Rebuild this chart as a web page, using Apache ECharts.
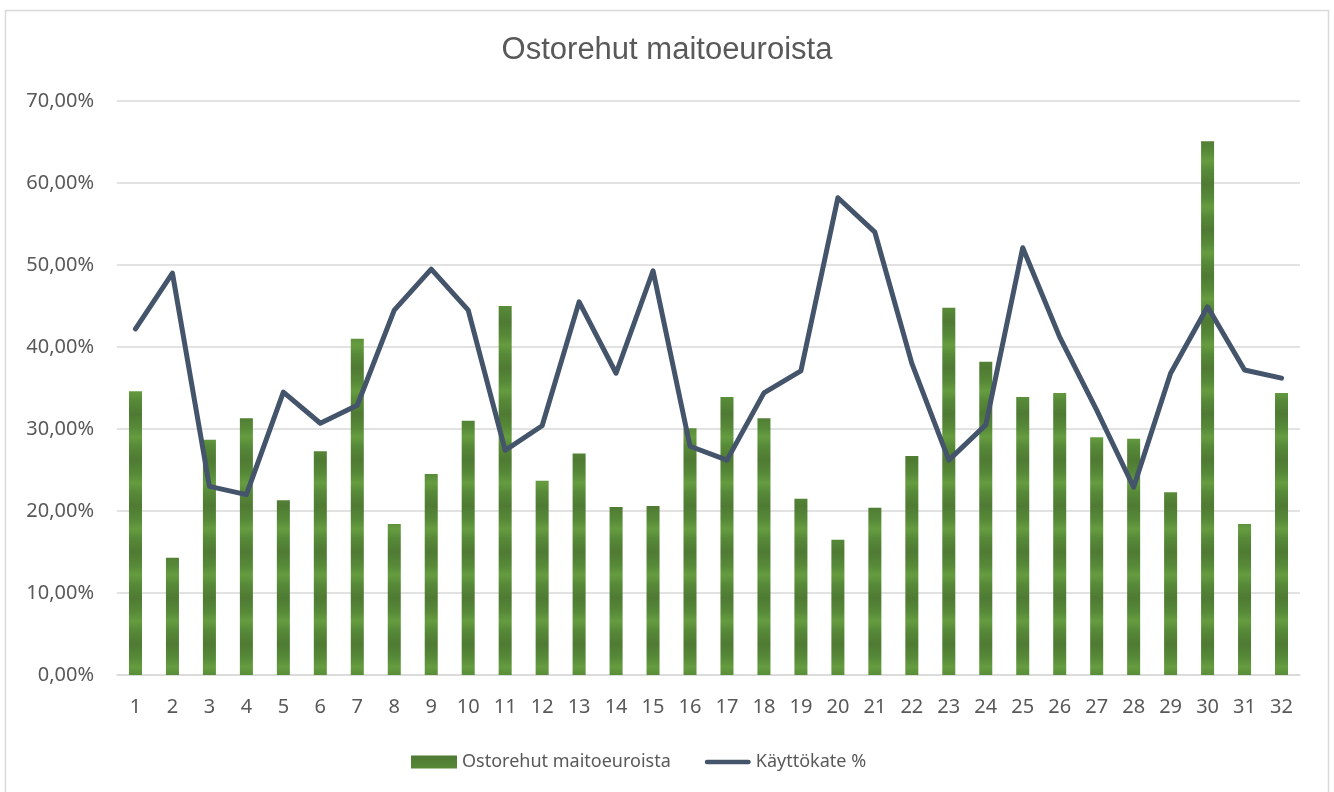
<!DOCTYPE html>
<html>
<head>
<meta charset="utf-8">
<script src="https://cdn.jsdelivr.net/npm/echarts@6/dist/echarts.min.js"></script>
<style>
html,body{margin:0;padding:0;background:#fff;}
#main{width:1334px;height:792px;}
</style>
</head>
<body>
<div id="main"></div>
<script>
// tilat 1..32
var categories = [];
for (var i = 1; i <= 32; i++) categories.push(String(i));

// ostorehut maitoeuroista (%)
var feedShare = [34.6, 14.3, 28.7, 31.3, 21.3, 27.3, 41.0, 18.4, 24.5, 31.0,
	45.0, 23.7, 27.0, 20.5, 20.6, 30.1, 33.9, 31.3, 21.5, 16.5,
	20.4, 26.7, 44.8, 38.2, 33.9, 34.4, 29.0, 28.8, 22.3, 65.1,
	18.4, 34.4];

// käyttökate % 
var ebitda = [42.2, 49.0, 23.0, 22.0, 34.5, 30.7, 32.9, 44.5, 49.5, 44.5,
	27.4, 30.4, 45.5, 36.8, 49.3, 27.9, 26.2, 34.4, 37.1, 58.2,
	54.0, 38.0, 26.2, 30.5, 52.1, 41.2, 32.3, 22.9, 36.8, 44.9,
	37.2, 36.2];

var yTicks = [0, 10, 20, 30, 40, 50, 60, 70];

// raidallinen vihreä täyttö pylväisiin
function stripeCanvas() {
	var c = document.createElement('canvas');
	c.width = 16;
	c.height = 46;
	var ctx = c.getContext('2d');
	var g = ctx.createLinearGradient(0, 0, 0, 46);
	g.addColorStop(0, '#4f7a33');
	g.addColorStop(0.3, '#578a38');
	g.addColorStop(0.5, '#669c40');
	g.addColorStop(0.7, '#578a38');
	g.addColorStop(1, '#4f7a33');
	ctx.fillStyle = g;
	ctx.fillRect(0, 0, 16, 46);
	return c;
}
var barFill = { image: stripeCanvas(), repeat: 'repeat' };

var txt = '#595959';
var myChart = echarts.init(document.getElementById('main'));
var option = {
	backgroundColor: '#fff',
	animation: false,
	title: {
		text: 'Ostorehut maitoeuroista',
		left: 'center',
		top: 30,
		textStyle: { fontFamily: 'Liberation Sans', fontSize: 31, fontWeight: 'normal', color: txt }
	},
	graphic: [{
		type: 'rect',
		shape: { x: 5.5, y: 10.5, width: 1323, height: 790 },
		style: { fill: 'none', stroke: '#d9d9d9', lineWidth: 1.5 },
		silent: true
	}],
	legend: {
		bottom: 16,
		left: 406,
		itemWidth: 46,
		itemHeight: 13,
		itemGap: 34,
		symbolKeepAspect: true,
		textStyle: { fontFamily: 'Noto Sans', fontSize: 18, color: txt },
		data: [
			{ name: 'Ostorehut maitoeuroista', icon: 'rect' },
			{ name: 'Käyttökate %', icon: 'path://M2.5,0 L47.5,0 A2.5,2.5 0 0 1 47.5,5 L2.5,5 A2.5,2.5 0 0 1 2.5,0 Z' }
		]
	},
	grid: { left: 117, right: 34, top: 101, bottom: 117 },
	xAxis: {
		type: 'category',
		data: categories,
		axisLine: { lineStyle: { color: '#d9d9d9', width: 1.5 } },
		axisTick: { show: false },
		axisLabel: { fontFamily: 'Noto Sans', fontSize: 20, color: txt, margin: 22 }
	},
	yAxis: {
		type: 'value',
		min: yTicks[0],
		max: yTicks[yTicks.length - 1],
		interval: 10,
		axisLine: { show: false },
		axisTick: { show: false },
		splitLine: { lineStyle: { color: '#d9d9d9', width: 1.5 } },
		axisLabel: {
			fontFamily: 'Noto Sans', fontSize: 20, color: txt, margin: 23,
			formatter: function (v) { return v.toFixed(2).replace('.', ',') + '%'; }
		}
	},
	series: [{
		name: 'Ostorehut maitoeuroista',
		type: 'bar',
		barWidth: 13,
		itemStyle: { color: barFill },
		data: feedShare
	}, {
		name: 'Käyttökate %',
		type: 'line',
		symbol: 'none',
		lineStyle: { color: '#44546a', width: 5, cap: 'round', join: 'round' },
		itemStyle: { color: '#44546a' },
		data: ebitda
	}]
};
myChart.setOption(option);
</script>
</body>
</html>
